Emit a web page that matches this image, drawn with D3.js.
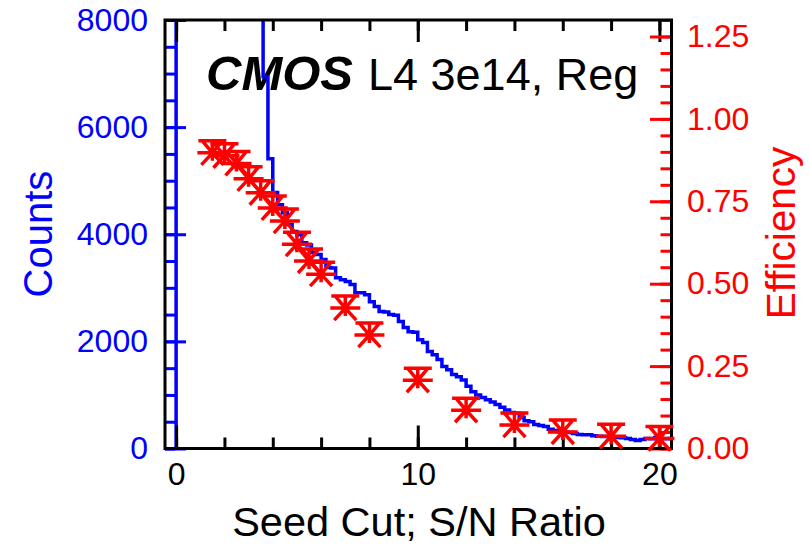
<!DOCTYPE html>
<html>
<head>
<meta charset="utf-8">
<script src="https://cdn.jsdelivr.net/npm/d3@7"></script>
<style>
  body { margin: 0; background: #fff; }
  text { font-family: "Liberation Sans", Arial, Helvetica, sans-serif; }
</style>
</head>
<body>
<div id="chart"></div>
<script>
const width = 810;
const height = 546;
const frame = { left: 165, right: 671.5, top: 20, bottom: 448.5 };

// histogram: bins of 0.2 starting at 0 (first 18 bins run off the top)
const binStart = 0;
const binWidth = 0.2;
const counts = [
  95000, 62000, 41000, 30000, 24000, 20500, 18000, 16200, 14800, 13700,
  12800, 12000, 11300, 10700, 10100, 9600, 9100, 8700, 6940, 5410,
  4780, 4550, 4400, 4180, 4050, 3990, 3840, 3800, 3660, 3620,
  3530, 3380, 3370, 3190, 3150, 3120, 3060, 2910, 2910, 2870,
  2740, 2650, 2560, 2550, 2500, 2490, 2370, 2260, 2180, 2170,
  2030, 1980, 1810, 1750, 1660, 1530, 1470, 1380, 1340, 1280,
  1160, 1060, 1000, 950, 910, 870, 820, 770, 720, 670,
  660, 580, 520, 500, 450, 430, 410, 360, 335, 315,
  310, 300, 280, 262, 258, 255, 240, 228, 224, 222,
  220, 205, 200, 185, 170, 150, 168, 185, 182, 205,
  186, 184, 185
];

// efficiency vs seed cut
const effX = [1.5, 2, 2.5, 3, 3.5, 4, 4.5, 5, 5.5, 6, 7, 8, 10, 12, 14, 16, 18, 20];
const effY = [0.897, 0.888, 0.865, 0.818, 0.776, 0.730, 0.690, 0.620, 0.569, 0.529,
              0.426, 0.344, 0.207, 0.116, 0.071, 0.050, 0.037, 0.030];

const xMajor = [0, 10, 20];
const xMinor = [0, 2, 4, 6, 8, 10, 12, 14, 16, 18, 20];
const countMajor = [0, 2000, 4000, 6000, 8000];
const countMinor = [0, 500, 1000, 1500, 2000, 2500, 3000, 3500, 4000, 4500, 5000, 5500, 6000, 6500, 7000, 7500, 8000];
const effMajor = [0, 0.25, 0.5, 0.75, 1.0, 1.25];
const effMinor = [0, 0.05, 0.1, 0.15, 0.2, 0.25, 0.3, 0.35, 0.4, 0.45, 0.5, 0.55, 0.6, 0.65, 0.7, 0.75, 0.8, 0.85, 0.9, 0.95, 1.0, 1.05, 1.1, 1.15, 1.2, 1.25, 1.3];

const blue = "#0000ff";
const red = "#ff0000";

const svg = d3.select("#chart")
  .append("svg")
  .attr("width", width)
  .attr("height", height);

const x = d3.scaleLinear().domain([-0.46, 20.5]).range([frame.left, frame.right]);
const yCounts = d3.scaleLinear().domain([0, 8000]).range([frame.bottom, frame.top]);
const yEff = d3.scaleLinear().domain([0, 1.3]).range([frame.bottom, frame.top]);

svg.append("clipPath")
  .attr("id", "plotClip")
  .append("rect")
  .attr("x", frame.left)
  .attr("y", frame.top)
  .attr("width", frame.right - frame.left)
  .attr("height", frame.bottom - frame.top);

// label inside the pad
svg.append("text")
  .attr("x", 206)
  .attr("y", 90)
  .attr("font-size", "49px")
  .attr("font-weight", "bold")
  .attr("font-style", "italic")
  .text("CMOS");

svg.append("text")
  .attr("x", 368)
  .attr("y", 90)
  .attr("font-size", "45px")
  .text("L4 3e14, Reg");

// histogram as a step line
const histPoints = [[binStart, 0]];
counts.forEach((c, i) => histPoints.push([binStart + i * binWidth, c]));
histPoints.push([binStart + counts.length * binWidth, counts[counts.length - 1]]);

const histLine = d3.line()
  .x(d => x(d[0]))
  .y(d => yCounts(d[1]))
  .curve(d3.curveStepAfter);

svg.append("path")
  .datum(histPoints)
  .attr("clip-path", "url(#plotClip)")
  .attr("d", histLine)
  .attr("fill", "none")
  .attr("stroke", blue)
  .attr("stroke-width", 3.5);

// x axes (bottom and top)
function styleAxis(g, color) {
  g.select(".domain").remove();
  g.selectAll("line").attr("stroke", color).attr("stroke-width", 3);
  g.selectAll("text").attr("fill", color).attr("font-size", "32px")
    .attr("font-family", "'Liberation Sans', Arial, Helvetica, sans-serif");
}

svg.append("g")
  .attr("transform", `translate(0,${frame.bottom})`)
  .call(d3.axisBottom(x).tickValues(xMinor).tickSize(-11).tickFormat(""))
  .call(g => styleAxis(g, "#000"));

svg.append("g")
  .attr("transform", `translate(0,${frame.bottom})`)
  .call(d3.axisBottom(x).tickValues(xMajor).tickSize(-23).tickPadding(14).tickFormat(d3.format("d")))
  .call(g => styleAxis(g, "#000"));

svg.append("g")
  .attr("transform", `translate(0,${frame.top})`)
  .call(d3.axisTop(x).tickValues(xMinor).tickSize(-11).tickFormat(""))
  .call(g => styleAxis(g, "#000"));

svg.append("g")
  .attr("transform", `translate(0,${frame.top})`)
  .call(d3.axisTop(x).tickValues(xMajor).tickSize(-22).tickFormat(""))
  .call(g => styleAxis(g, "#000"));

// left axis: counts
svg.append("g")
  .attr("transform", `translate(${frame.left},0)`)
  .call(d3.axisLeft(yCounts).tickValues(countMinor).tickSize(-10).tickFormat(""))
  .call(g => styleAxis(g, blue));

svg.append("g")
  .attr("transform", `translate(${frame.left},0)`)
  .call(d3.axisLeft(yCounts).tickValues(countMajor).tickSize(-21).tickPadding(17).tickFormat(d3.format("d")))
  .call(g => styleAxis(g, blue));

// right axis: efficiency
svg.append("g")
  .attr("transform", `translate(${frame.right},0)`)
  .call(d3.axisRight(yEff).tickValues(effMinor).tickSize(-11).tickFormat(""))
  .call(g => styleAxis(g, red));

svg.append("g")
  .attr("transform", `translate(${frame.right},0)`)
  .call(d3.axisRight(yEff).tickValues(effMajor).tickSize(-21.5).tickPadding(15.5).tickFormat(d3.format(".2f")))
  .call(g => styleAxis(g, red));

// frame
svg.append("rect")
  .attr("x", frame.left)
  .attr("y", frame.top)
  .attr("width", frame.right - frame.left)
  .attr("height", frame.bottom - frame.top)
  .attr("fill", "none")
  .attr("stroke", "#000")
  .attr("stroke-width", 3);

// efficiency markers (asterisk with cap)
const markerPath = "M-15,0H15M0,-12V8M-10,-12L0,0L-11,12M10,-12L0,0L11,12M-14,-12H14";

svg.append("g")
  .selectAll("path")
  .data(effX.map((v, i) => [v, effY[i]]))
  .enter()
  .append("path")
  .attr("transform", d => `translate(${x(d[0])},${yEff(d[1])})`)
  .attr("d", markerPath)
  .attr("fill", "none")
  .attr("stroke", red)
  .attr("stroke-width", 3.5);

// axis titles
svg.append("text")
  .attr("x", 419)
  .attr("y", 536)
  .attr("text-anchor", "middle")
  .attr("font-size", "41.5px")
  .text("Seed Cut; S/N Ratio");

svg.append("text")
  .attr("transform", "translate(52,234) rotate(-90)")
  .attr("text-anchor", "middle")
  .attr("font-size", "40px")
  .attr("fill", blue)
  .text("Counts");

svg.append("text")
  .attr("transform", "translate(795,233) rotate(-90)")
  .attr("text-anchor", "middle")
  .attr("font-size", "40.5px")
  .attr("fill", red)
  .text("Efficiency");
</script>
</body>
</html>
